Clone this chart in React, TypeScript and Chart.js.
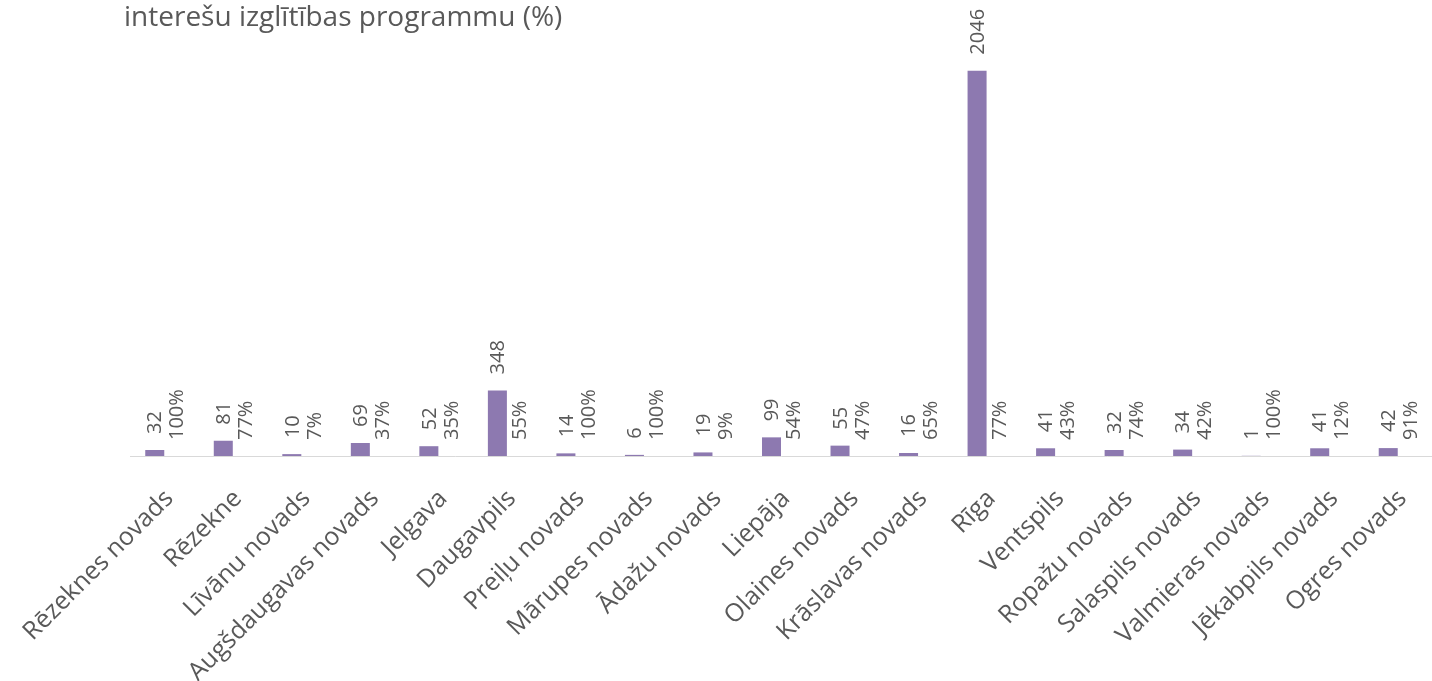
import React, { useEffect, useRef } from "react";
import { Chart, registerables } from "chart.js";

Chart.register(...registerables);

const categories = [
  "Rēzeknes novads",
  "Rēzekne",
  "Līvānu novads",
  "Augšdaugavas novads",
  "Jelgava",
  "Daugavpils",
  "Preiļu novads",
  "Mārupes novads",
  "Ādažu novads",
  "Liepāja",
  "Olaines novads",
  "Krāslavas novads",
  "Rīga",
  "Ventspils",
  "Ropažu novads",
  "Salaspils novads",
  "Valmieras novads",
  "Jēkabpils novads",
  "Ogres novads",
];

const counts = [32, 81, 10, 69, 52, 348, 14, 6, 19, 99, 55, 16, 2046, 41, 32, 34, 1, 41, 42];

const percents = [100, 77, 7, 37, 35, 55, 100, 100, 9, 54, 47, 65, 77, 43, 74, 42, 100, 12, 91];

const titleText = "interešu izglītības programmu (%)";

const BAR_COLOR = "#8d79b0";
const TEXT_COLOR = "#595959";
const AXIS_COLOR = "#d9d9d9";
const FONT = "'Open Sans', sans-serif";

function drawRotated(ctx: CanvasRenderingContext2D, text: string, x: number, y: number) {
  ctx.save();
  ctx.translate(x, y);
  ctx.rotate(-Math.PI / 2);
  ctx.fillText(text, 0, 0);
  ctx.restore();
}

const labelPlugin = {
  id: "barLabels",
  afterDatasetsDraw(chart: any) {
    const ctx: CanvasRenderingContext2D = chart.ctx;
    const m0 = chart.getDatasetMeta(0);
    const m1 = chart.getDatasetMeta(1);
    const base = chart.scales.y.getPixelForValue(0);
    ctx.save();
    ctx.fillStyle = TEXT_COLOR;
    ctx.font = `20px ${FONT}`;
    ctx.textAlign = "left";
    ctx.textBaseline = "middle";
    m0.data.forEach((bar: any, i: number) => {
      drawRotated(ctx, String(counts[i]), bar.x + 1, bar.y - 16);
      const pb = m1.data[i];
      drawRotated(ctx, percents[i] + "%", pb.x + 4, base - 16);
    });
    ctx.restore();
  },
};

const titlePlugin = {
  id: "cornerTitle",
  afterDraw(chart: any) {
    const ctx: CanvasRenderingContext2D = chart.ctx;
    ctx.save();
    ctx.fillStyle = TEXT_COLOR;
    ctx.font = `28px ${FONT}`;
    ctx.textAlign = "left";
    ctx.textBaseline = "alphabetic";
    ctx.fillText(titleText, 124, 26);
    ctx.restore();
  },
};

export default function App() {
  const ref = useRef<HTMLCanvasElement>(null);
  useEffect(() => {
    if (!ref.current) return;
    const chart = new Chart(ref.current, {
      type: "bar",
      data: {
        labels: categories,
        datasets: [
          {
            label: "Skaits",
            data: counts,
            backgroundColor: BAR_COLOR,
            yAxisID: "y",
            categoryPercentage: 0.555,
            barPercentage: 1,
          },
          {
            label: "%",
            data: percents,
            backgroundColor: "rgba(0,0,0,0)",
            yAxisID: "yPct",
            categoryPercentage: 0.555,
            barPercentage: 1,
          },
        ],
      },
      options: {
        responsive: false,
        animation: false,
        events: [],
        layout: { padding: { left: 130, right: 0, top: 4, bottom: 0 } },
        plugins: {
          legend: { display: false },
          title: { display: false },
          tooltip: { enabled: false },
        },
        scales: {
          x: {
            grid: { display: false },
            border: { display: true, color: AXIS_COLOR, width: 1 },
            ticks: {
              minRotation: 45,
              maxRotation: 45,
              autoSkip: false,
              color: TEXT_COLOR,
              padding: 20,
              labelOffset: 5,
              font: { family: FONT, size: 25 },
            },
            afterFit(scale: any) {
              scale.height = 225;
              scale.paddingLeft = 0;
              scale.paddingRight = 0;
            },
          },
          y: { display: false, min: 0, max: 2400 },
          yPct: { display: false, min: 0, max: 100 },
        },
      },
      plugins: [labelPlugin, titlePlugin],
    });
    return () => chart.destroy();
  }, []);
  return (
    <div style={{ position: "absolute", left: 0, top: 0, width: 1432, height: 681 }}>
      <canvas ref={ref} width={1432} height={681} />
    </div>
  );
}
